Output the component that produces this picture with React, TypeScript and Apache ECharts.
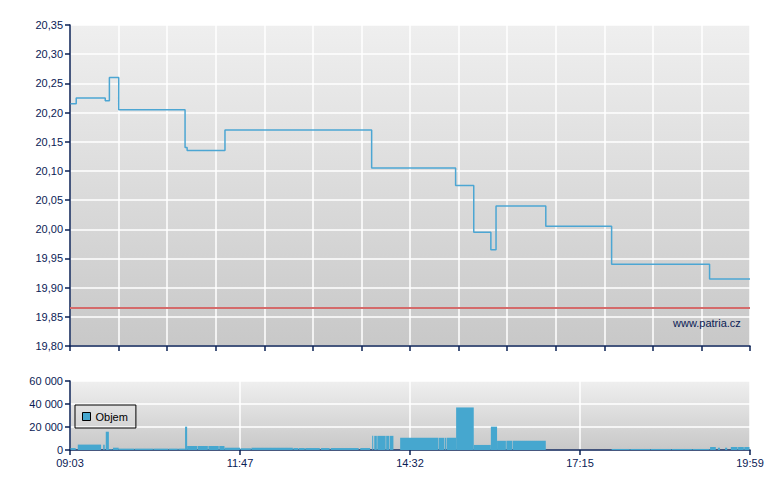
import React, { useEffect, useRef } from "react";
import * as echarts from "echarts";

// Time in minutes since 09:03
const priceTimes = [0.5, 6, 34, 38, 47, 111, 113, 149.5, 291, 372, 389.5, 406, 411, 459, 522.5, 617, 656];
const priceValues = [20.215, 20.225, 20.22, 20.26, 20.205, 20.14, 20.135, 20.17, 20.105, 20.075, 19.995, 19.965, 20.04, 20.005, 19.94, 19.915, 19.915];
const prevClose = 19.866;

const volStart = [0.5, 7.5, 32, 34.5, 37.5, 41.5, 47, 62.5, 80.5, 95.5, 104.5, 111, 113, 123, 133.5, 144, 149, 164.5, 175, 215.5, 220.5, 227, 242, 251.5, 280, 291.5, 293.5, 296.5, 305, 308.5, 318.5, 356, 361.5, 363.5, 372.5, 389.5, 406, 412, 421, 427, 522.5, 540.5, 560.5, 580.5, 600.5, 617.5, 625, 632, 637.5, 644.5, 650.5];
const volEnd = [5.5, 30, 33.5, 37.5, 41, 47, 62, 80, 95, 104, 111, 113, 122.5, 133, 143.5, 149, 164, 174.5, 215, 220, 226.5, 241, 250.5, 278.5, 289.5, 292.5, 296, 304.5, 308, 312, 355.5, 361, 363, 372.5, 389.5, 406, 412, 420.5, 426.5, 459, 540, 560, 580, 600, 617, 623, 627, 634, 644, 650, 655.5];
const volValue = [1700, 4700, 4500, 15900, 600, 2000, 1200, 1200, 1200, 1200, 1200, 20300, 3500, 3500, 3500, 3500, 2000, 1500, 2000, 1700, 1700, 1700, 1700, 1700, 1700, 12300, 12300, 12300, 12300, 12300, 10600, 10600, 10600, 10600, 37000, 4400, 20300, 8000, 8000, 8000, 900, 900, 900, 900, 900, 2600, 2000, 2000, 2600, 2600, 2600];

const timeLabels = ["09:03", "11:47", "14:32", "17:15", "19:59"];
const xMax = 656;
const priceMin = 19.8;
const priceMax = 20.35;
const volMax = 60000;

const NAVY = "#0a2155";
const BLUE = "#46a7cf";
const FONT = "Liberation Sans, Arial, sans-serif";

const bgGradient = {
  type: "linear",
  x: 0,
  y: 0,
  x2: 0,
  y2: 1,
  colorStops: [
    { offset: 0, color: "#efefef" },
    { offset: 1, color: "#c8c8c8" },
  ],
};

export default function App() {
  const ref = useRef<HTMLDivElement>(null);
  useEffect(() => {
    if (!ref.current) return;
    const chart = echarts.init(ref.current, undefined, { renderer: "svg" });
    const priceData = priceTimes.map((t, i) => [t, priceValues[i]]);
    const volData = volStart.map((s, i) => [s, volEnd[i], volValue[i]]);
    const axisLine = { show: true, lineStyle: { color: NAVY, width: 1.5 } };
    const axisTick = { show: true, length: 5, lineStyle: { color: NAVY, width: 1.5 } };
    const splitLine = { show: true, lineStyle: { color: "#ffffff", width: 1.5 } };
    chart.setOption({
      animation: false,
      textStyle: { fontFamily: FONT },
      grid: [
        { left: 70, top: 25, width: 680, height: 321, show: true, backgroundColor: bgGradient, borderWidth: 0 },
        { left: 70, top: 381, width: 680, height: 69, show: true, backgroundColor: bgGradient, borderWidth: 0 },
      ],
      xAxis: [
        {
          type: "value",
          gridIndex: 0,
          min: 0,
          max: xMax,
          interval: xMax / 14,
          axisLine,
          axisTick,
          axisLabel: { show: false },
          splitLine,
        },
        {
          type: "value",
          gridIndex: 1,
          min: 0,
          max: xMax,
          interval: xMax / 4,
          axisLine,
          axisTick,
          splitLine,
          axisLabel: {
            color: NAVY,
            fontSize: 11,
            fontFamily: FONT,
            margin: 7,
            formatter: (v: number) => timeLabels[Math.round(v / (xMax / 4))] ?? "",
          },
        },
      ],
      yAxis: [
        {
          type: "value",
          gridIndex: 0,
          min: priceMin,
          max: priceMax,
          interval: 0.05,
          axisLine,
          axisTick,
          splitLine,
          axisLabel: {
            color: NAVY,
            fontSize: 11,
            fontFamily: FONT,
            margin: 7,
            formatter: (v: number) => v.toFixed(2).replace(".", ","),
          },
        },
        {
          type: "value",
          gridIndex: 1,
          min: 0,
          max: volMax,
          interval: 20000,
          axisLine,
          axisTick,
          splitLine,
          axisLabel: {
            color: NAVY,
            fontSize: 11,
            fontFamily: FONT,
            margin: 7,
            formatter: (v: number) => String(Math.round(v)).replace(/\B(?=(\d{3})+(?!\d))/g, " "),
          },
        },
      ],
      legend: {
        left: 75,
        top: 405,
        padding: [6, 8, 6, 7],
        borderColor: "#000",
        borderWidth: 1,
        itemWidth: 8,
        itemHeight: 8,
        itemGap: 5,
        textStyle: { color: "#000", fontSize: 11, fontFamily: FONT },
        data: [
          {
            name: "Objem",
            icon: "rect",
            itemStyle: { color: BLUE, borderColor: "#000", borderWidth: 1 },
          },
        ],
      },
      graphic: [
        {
          type: "text",
          left: 673,
          top: 317,
          z: 10,
          style: { text: "www.patria.cz", fill: NAVY, font: `11px ${FONT}` },
        },
      ],
      series: [
        {
          name: "Cena",
          type: "line",
          xAxisIndex: 0,
          yAxisIndex: 0,
          step: "end",
          showSymbol: false,
          data: priceData,
          lineStyle: { color: "#4ca6d3", width: 1.5 },
          itemStyle: { color: "#4ca6d3" },
          markLine: {
            silent: true,
            precision: 4,
            symbol: ["none", "none"],
            label: { show: false },
            lineStyle: { color: "#d46a6a", width: 2, type: "solid" },
            data: [{ yAxis: prevClose }],
          },
          z: 3,
        },
        {
          name: "Objem",
          type: "custom",
          xAxisIndex: 1,
          yAxisIndex: 1,
          coordinateSystem: "cartesian2d",
          encode: { x: [0, 1], y: 2 },
          clip: true,
          itemStyle: { color: BLUE },
          renderItem: (params: any, api: any) => {
            const p0 = api.coord([api.value(0), api.value(2)]);
            const p1 = api.coord([api.value(1), 0]);
            return {
              type: "rect",
              shape: { x: p0[0], y: p0[1], width: p1[0] - p0[0], height: p1[1] - p0[1] },
              style: { fill: BLUE },
            };
          },
          data: volData,
        },
      ],
    });
    return () => chart.dispose();
  }, []);
  return (
    <div
      ref={ref}
      style={{ position: "fixed", left: 0, top: 0, width: 780, height: 490, background: "#fff" }}
    />
  );
}
